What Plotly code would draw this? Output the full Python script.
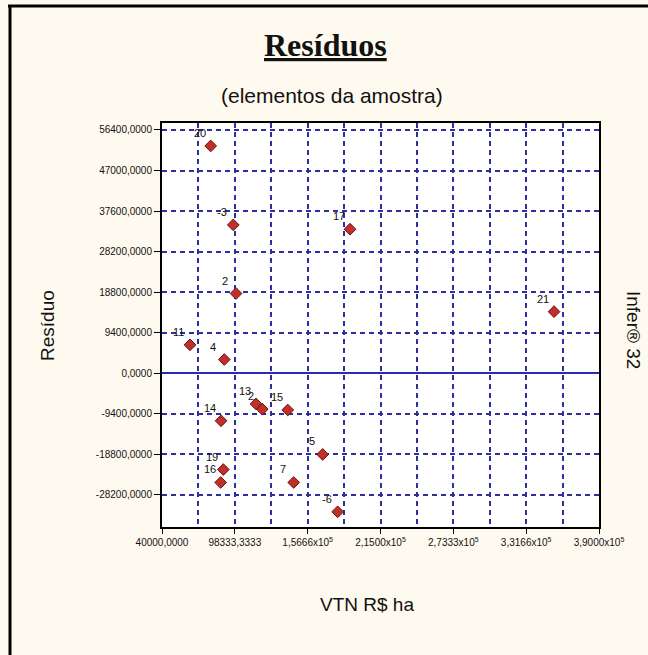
import plotly.graph_objects as go

# Data (point id, VTN R$ ha, residual)
labels = ["20", "-3", "17", "2", "21", "11", "4", "13", "2", "15", "14", "5", "19", "16", "7", "-6"]
vtn = [79000, 97100, 190600, 99300, 354000, 62400, 89900, 115300, 120300, 140700, 87300, 168700, 89100, 87000, 145500, 180700]
residuo = [52700, 34400, 33400, 18500, 14300, 6600, 3200, -7100, -8300, -8500, -11000, -18800, -22300, -25300, -25300, -32100]

x_tickvals = [40000, 98333.3333, 156666.6667, 215000, 273333.3333, 331666.6667, 390000]
x_ticktext = ["40000,0000", "98333,3333", "1,5666x10<sup>5</sup>", "2,1500x10<sup>5</sup>",
              "2,7333x10<sup>5</sup>", "3,3166x10<sup>5</sup>", "3,9000x10<sup>5</sup>"]
x_gridvals = [40000 + i * 29166.6667 for i in range(13)]
y_tickvals = [56400, 47000, 37600, 28200, 18800, 9400, 0, -9400, -18800, -28200]
y_ticktext = ["56400,0000", "47000,0000", "37600,0000", "28200,0000", "18800,0000",
              "9400,0000", "0,0000", "-9400,0000", "-18800,0000", "-28200,0000"]

W, H = 648, 655
L, R, T, B = 162, 49, 123, 128
PW, PH = W - L - R, H - T - B

def px(x):
    return (x - L) / PW

def py(y):
    return (H - B - y) / PH

grid_color = "#2e2ea0"
tick_font = dict(family="Liberation Sans Narrow, Arial Narrow, Arial", size=10, color="#111111")

fig = go.Figure()
fig.add_trace(go.Scatter(
    x=vtn, y=residuo, mode="markers",
    marker=dict(symbol="diamond", size=9, color="#c0302a",
                line=dict(color="#6e0f0f", width=1)),
    hoverinfo="x+y", showlegend=False,
))

for lab, xv, yv in zip(labels, vtn, residuo):
    fig.add_annotation(x=xv, y=yv, text=lab, showarrow=False,
                       xshift=-11, yshift=13,
                       font=dict(family="Arial", size=11, color="#111111"))

fig.update_layout(
    width=W, height=H,
    margin=dict(l=L, r=R, t=T, b=B),
    paper_bgcolor="#fffaf0",
    plot_bgcolor="#ffffff",
    xaxis=dict(range=[40000, 390000], tickmode="array", tickvals=x_tickvals,
               ticktext=x_ticktext, tickfont=tick_font, ticks="outside", ticklen=5,
               tickcolor="#000000", showgrid=False, zeroline=False,
               showline=True, linecolor="#000000", linewidth=2, mirror=True,
               minor=dict(tickmode="array", tickvals=x_gridvals, showgrid=True,
                          gridcolor=grid_color, griddash="5px,4px", gridwidth=1.5, ticks="")),
    yaxis=dict(range=[-35620, 58020], tickmode="array", tickvals=y_tickvals,
               ticktext=y_ticktext, tickfont=tick_font, ticks="outside", ticklen=6,
               tickcolor="#000000", showgrid=True, gridcolor=grid_color, griddash="5px,4px",
               gridwidth=1.5, zeroline=True, zerolinecolor="#2a2ab8", zerolinewidth=1.5,
               showline=True, linecolor="#000000", linewidth=2, mirror=True),
    shapes=[
        dict(type="line", xref="paper", yref="paper", x0=px(8), x1=px(648),
             y0=py(6), y1=py(6), line=dict(color="#000000", width=3)),
        dict(type="line", xref="paper", yref="paper", x0=px(10), x1=px(10),
             y0=py(655), y1=py(6), line=dict(color="#000000", width=3)),
    ],
)

def label(x, y, text, size, family="Arial", angle=0):
    fig.add_annotation(xref="paper", yref="paper", x=px(x), y=py(y), text=text,
                       showarrow=False, textangle=angle, xanchor="center", yanchor="middle",
                       font=dict(family=family, size=size, color="#111111"))

label(325, 45, "<b><u>Resíduos</u></b>", 32, family="Liberation Serif, Times New Roman")
label(332, 96, "(elementos da amostra)", 21)
label(367, 604, "VTN R$ ha", 19)
label(47, 326, "Resíduo", 19, angle=-90)
label(634, 330, "Infer® 32", 19, angle=90)

fig.write_html("out.html", config={"displayModeBar": False},
               post_script="document.body.style.margin='0';document.body.style.overflow='hidden';")
